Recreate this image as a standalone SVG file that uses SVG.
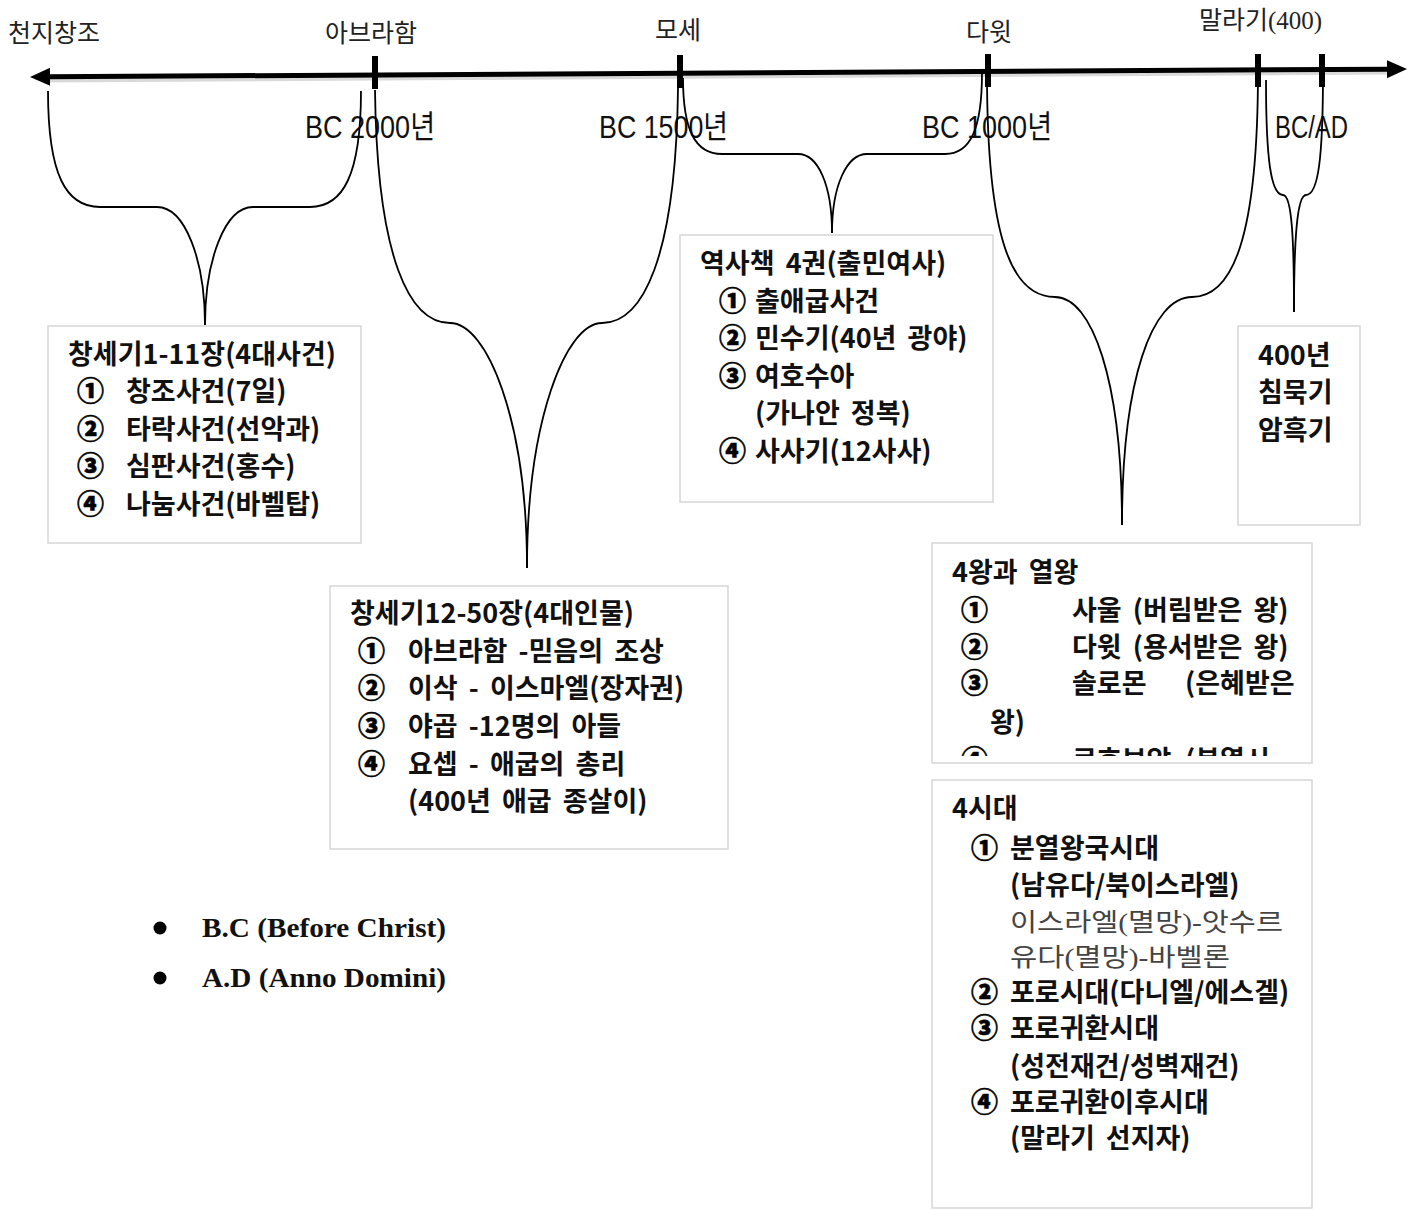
<svg xmlns="http://www.w3.org/2000/svg" width="1418" height="1210" viewBox="0 0 1418 1210">
<defs>
<style>
.lbl{font-family:"Liberation Serif","Noto Sans CJK KR",serif;font-size:25px;fill:#222}
.bc{font-family:"Liberation Sans","Noto Sans CJK KR",sans-serif;font-size:32px;fill:#111}
.t{font-family:"Noto Sans CJK KR",sans-serif;font-size:27px;font-weight:700;fill:#111;word-spacing:5px}
.c{font-family:"Noto Sans CJK KR",sans-serif;font-size:27px;font-weight:900;fill:#000;stroke:#000;stroke-width:0.6}
.s{font-family:"Liberation Serif","Noto Sans CJK KR",serif;font-size:25px;fill:#444}
.bl{font-family:"Liberation Serif",serif;font-size:28px;font-weight:700;fill:#111}
.box{fill:#fff;stroke:#d6d6d6;stroke-width:1.5}
.br{fill:none;stroke:#000;stroke-width:1.8}
.tick{fill:#000}
</style>
<marker id="ah" viewBox="0 0 20 18" refX="2" refY="9" markerWidth="20" markerHeight="18" markerUnits="userSpaceOnUse" orient="auto-start-reverse">
<path d="M0,0 L20,9 L0,18 Z" fill="#000"/>
</marker>
<clipPath id="clip5"><rect x="932" y="543" width="380" height="213"/></clipPath>
</defs>
<rect width="1418" height="1210" fill="#fff"/>

<g id="axis">
<line x1="48" y1="80" x2="1390" y2="72" stroke="#000" stroke-opacity="0.15" stroke-width="5"/>
<line x1="48" y1="76.8" x2="1389" y2="69.2" stroke="#000" stroke-width="5" marker-start="url(#ah)" marker-end="url(#ah)"/>
<rect class="tick" x="372" y="56" width="6" height="33"/>
<rect class="tick" x="677" y="55" width="6" height="33"/>
<rect class="tick" x="985" y="54" width="6" height="33"/>
<rect class="tick" x="1255" y="54" width="6" height="33"/>
<rect class="tick" x="1319" y="54" width="6" height="33"/>
</g>

<g id="top-labels">
<text class="lbl" x="8" y="42">천지창조</text>
<text class="lbl" x="325" y="42">아브라함</text>
<text class="lbl" x="655" y="39">모세</text>
<text class="lbl" x="966" y="41">다윗</text>
<text class="lbl" x="1199" y="29">말라기(400)</text>
</g>

<g id="bc-labels">
<text class="bc" x="305" y="138" textLength="130" lengthAdjust="spacingAndGlyphs">BC 2000년</text>
<text class="bc" x="599" y="138" textLength="129" lengthAdjust="spacingAndGlyphs">BC 1500년</text>
<text class="bc" x="922" y="138" textLength="130" lengthAdjust="spacingAndGlyphs">BC 1000년</text>
<text class="bc" x="1275" y="138" textLength="73" lengthAdjust="spacingAndGlyphs">BC/AD</text>
</g>

<g id="connectors">
<path class="br" d="M48,91 C48,175 66,207 100,207 L157,207 C185,207 205,260 205,325"/>
<path class="br" d="M361,91 C361,175 343,207 310,207 L253,207 C225,207 205,260 205,325"/>
<path class="br" d="M375,90 C377,260 410,323 450,323 C487,323 527,420 527,568"/>
<path class="br" d="M678,88 C676,260 642,323 602,323 C566,323 527,420 527,568"/>
<path class="br" d="M683,78 C683,130 695,154 722,154 L798,154 C818,154 832,185 832,233"/>
<path class="br" d="M982,73 C982,130 970,154 945,154 L867,154 C847,154 832,185 832,233"/>
<path class="br" d="M987,73 C987,240 1012,297 1055,297 C1092,297 1122,380 1122,525"/>
<path class="br" d="M1258,70 C1258,240 1232,297 1192,297 C1152,297 1122,380 1122,525"/>
<path class="br" d="M1266,80 C1266,160 1271,195 1283,195 C1292,195 1294,240 1294,312"/>
<path class="br" d="M1323,72 C1323,160 1318,195 1306,195 C1297,195 1294,240 1294,312"/>
</g>

<g id="box-genesis1">
<rect class="box" x="48" y="326" width="313" height="217"/>
<text class="t" x="68" y="364">창세기1-11장(4대사건)</text>
<text class="c" x="77" y="401">①</text><text class="t" x="126" y="401">창조사건(7일)</text>
<text class="c" x="77" y="439">②</text><text class="t" x="126" y="439">타락사건(선악과)</text>
<text class="c" x="77" y="476">③</text><text class="t" x="126" y="476">심판사건(홍수)</text>
<text class="c" x="77" y="514">④</text><text class="t" x="126" y="514">나눔사건(바벨탑)</text>
</g>

<g id="box-genesis2">
<rect class="box" x="330" y="586" width="398" height="263"/>
<text class="t" x="350" y="623">창세기12-50장(4대인물)</text>
<text class="c" x="358" y="661">①</text><text class="t" x="408" y="661">아브라함 -믿음의 조상</text>
<text class="c" x="358" y="698">②</text><text class="t" x="408" y="698">이삭 - 이스마엘(장자권)</text>
<text class="c" x="358" y="736">③</text><text class="t" x="408" y="736">야곱 -12명의 아들</text>
<text class="c" x="358" y="774">④</text><text class="t" x="408" y="774">요셉 - 애굽의 총리</text>
<text class="t" x="408" y="811">(400년 애굽 종살이)</text>
</g>

<g id="box-history">
<rect class="box" x="680" y="235" width="313" height="267"/>
<text class="t" x="700" y="273">역사책 4권(출민여사)</text>
<text class="c" x="719" y="311">①</text><text class="t" x="755" y="311">출애굽사건</text>
<text class="c" x="719" y="348">②</text><text class="t" x="755" y="348">민수기(40년 광야)</text>
<text class="c" x="719" y="386">③</text><text class="t" x="755" y="386">여호수아</text>
<text class="t" x="755" y="423">(가나안 정복)</text>
<text class="c" x="719" y="461">④</text><text class="t" x="755" y="461">사사기(12사사)</text>
</g>

<g id="box-silence">
<rect class="box" x="1238" y="326" width="122" height="199"/>
<text class="t" x="1258" y="365">400년</text>
<text class="t" x="1258" y="402">침묵기</text>
<text class="t" x="1258" y="440">암흑기</text>
</g>

<g id="box-kings">
<rect class="box" x="932" y="543" width="380" height="220"/>
<g clip-path="url(#clip5)">
<text class="t" x="952" y="582">4왕과 열왕</text>
<text class="c" x="961" y="620">①</text><text class="t" x="1072" y="620">사울 (버림받은 왕)</text>
<text class="c" x="961" y="657">②</text><text class="t" x="1072" y="657">다윗 (용서받은 왕)</text>
<text class="c" x="961" y="693">③</text><text class="t" x="1072" y="693">솔로몬</text><text class="t" x="1185" y="693">(은혜받은</text>
<text class="t" x="990" y="732">왕)</text>
<text class="c" x="961" y="770">④</text><text class="t" x="1072" y="770">르호보암</text><text class="t" x="1185" y="770">(분열시</text>
</g>
</g>

<g id="box-eras">
<rect class="box" x="932" y="780" width="380" height="428"/>
<text class="t" x="952" y="818">4시대</text>
<text class="c" x="971" y="858">①</text><text class="t" x="1010" y="858">분열왕국시대</text>
<text class="t" x="1010" y="895">(남유다/북이스라엘)</text>
<text class="s" x="1010" y="931" textLength="273" lengthAdjust="spacingAndGlyphs">이스라엘(멸망)-앗수르</text>
<text class="s" x="1010" y="966" textLength="220" lengthAdjust="spacingAndGlyphs">유다(멸망)-바벨론</text>
<text class="c" x="971" y="1002">②</text><text class="t" x="1010" y="1002">포로시대(다니엘/에스겔)</text>
<text class="c" x="971" y="1038">③</text><text class="t" x="1010" y="1038">포로귀환시대</text>
<text class="t" x="1010" y="1076">(성전재건/성벽재건)</text>
<text class="c" x="971" y="1112">④</text><text class="t" x="1010" y="1112">포로귀환이후시대</text>
<text class="t" x="1010" y="1148">(말라기 선지자)</text>
</g>

<g id="notes">
<circle cx="160" cy="928" r="6.5" fill="#000"/>
<text class="bl" x="202" y="937" textLength="244" lengthAdjust="spacingAndGlyphs">B.C (Before Christ)</text>
<circle cx="160" cy="978" r="6.5" fill="#000"/>
<text class="bl" x="202" y="987" textLength="244" lengthAdjust="spacingAndGlyphs">A.D (Anno Domini)</text>
</g>
</svg>
